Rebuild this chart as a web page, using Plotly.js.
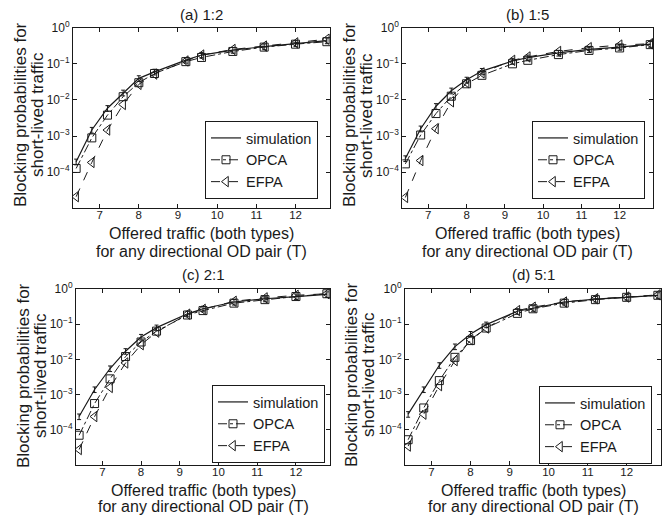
<!DOCTYPE html>
<html>
<head>
<meta charset="utf-8">
<script src="https://cdn.plot.ly/plotly-3.0.1.min.js"></script>
<style>html,body{margin:0;padding:0;background:#fff;}#chart{width:662px;height:515px;}</style>
</head>
<body>
<div id="chart"></div>
<script>
// Offered traffic (x values)
const T = [6.4, 6.8, 7.2, 7.6, 8.0, 8.4, 9.2, 9.6, 10.4, 11.2, 12.0, 12.8];

// (a) 1:2
const simA  = [1.95e-4, 1.47e-3, 5.9e-3, 1.58e-2, 3.96e-2, 6.0e-2, 0.127, 0.175, 0.24, 0.30, 0.37, 0.44];
const opcaA = [1.27e-4, 8.9e-4, 3.8e-3, 1.23e-2, 3.0e-2, 5.4e-2, 0.115, 0.15, 0.22, 0.29, 0.35, 0.41];
const efpaA = [2.1e-5, 1.86e-4, 1.47e-3, 7.5e-3, 2.7e-2, 5.2e-2, 0.12, 0.175, 0.25, 0.31, 0.38, 0.48];

// (b) 1:5
const simB  = [2.4e-4, 1.6e-3, 6.7e-3, 1.8e-2, 3.6e-2, 6.3e-2, 0.12, 0.148, 0.20, 0.25, 0.29, 0.35];
const opcaB = [1.7e-4, 1.07e-3, 4.2e-3, 1.27e-2, 2.8e-2, 4.8e-2, 0.10, 0.125, 0.18, 0.235, 0.275, 0.34];
const efpaB = [2.0e-5, 2.1e-4, 1.6e-3, 8.9e-3, 3.0e-2, 5.6e-2, 0.125, 0.155, 0.22, 0.28, 0.33, 0.36];

// (c) 2:1
const simC  = [2.4e-4, 1.4e-3, 5.5e-3, 1.7e-2, 4.3e-2, 7.9e-2, 0.195, 0.27, 0.42, 0.52, 0.60, 0.69];
const opcaC = [7.1e-5, 5.6e-4, 2.8e-3, 1.2e-2, 3.1e-2, 6.3e-2, 0.18, 0.24, 0.39, 0.49, 0.60, 0.72];
const efpaC = [2.8e-5, 2.4e-4, 1.6e-3, 7.9e-3, 2.6e-2, 5.9e-2, 0.19, 0.26, 0.44, 0.55, 0.65, 0.72];

// (d) 5:1
const simD  = [2.8e-4, 1.4e-3, 6.8e-3, 2.3e-2, 5.2e-2, 9.6e-2, 0.23, 0.28, 0.42, 0.51, 0.58, 0.65];
const opcaD = [5.3e-5, 4.2e-4, 2.5e-3, 1.14e-2, 3.4e-2, 7.7e-2, 0.20, 0.27, 0.39, 0.49, 0.57, 0.65];
const efpaD = [3.5e-5, 2.8e-4, 1.8e-3, 9.2e-3, 3.6e-2, 7.7e-2, 0.24, 0.30, 0.42, 0.52, 0.58, 0.67];

// Labels
const panelTitles = ['(a) 1:2', '(b) 1:5', '(c) 2:1', '(d) 5:1'];
const seriesNames = ['simulation', 'OPCA', 'EFPA'];
const xTickVals = [7, 8, 9, 10, 11, 12];
const yTickVals = [1e-4, 1e-3, 1e-2, 1e-1, 1];
const yTickText = ['10<sup>\u22124</sup>', '10<sup>\u22123</sup>', '10<sup>\u22122</sup>', '10<sup>\u22121</sup>', '10<sup>0</sup>'];
const xTitle1 = 'Offered traffic (both types)';
const xTitle2 = 'for any directional OD pair (T)';
const yTitle1 = 'Blocking probabilities for';
const yTitle2 = 'short-lived traffic';

const panels = [
  {sim: simA, opca: opcaA, efpa: efpaA},
  {sim: simB, opca: opcaB, efpa: efpaB},
  {sim: simC, opca: opcaC, efpa: efpaC},
  {sim: simD, opca: opcaD, efpa: efpaD}
];

const W = 662, H = 515;
const px = v => v / W;
const py = v => 1 - v / H;

// pixel boxes [left, right, top, bottom]
const boxes = [
  [73, 330, 27.7, 208.3],
  [402.3, 653.3, 27.7, 208.3],
  [76, 330, 288.7, 465.3],
  [405, 661, 288.7, 465.3]
];
// legend right/bottom in pixels
const legPos = [[318, 199], [645, 199], [325, 463], [652, 464]];
// y-title x positions and centre y
const yTitlePos = [[20, 37, 115], [349, 366, 115], [23, 40, 376], [351, 368, 375]];
const titleY = [15, 15, 274, 274];
const xTitleY = [[233, 251], [233, 251], [490, 506]];
xTitleY.push([490, 506]);

const FONT = 'Liberation Sans, Arial, sans-serif';
const INK = '#1a1a1a';

const data = [];
const layout = {
  width: W, height: H,
  margin: {l: 0, r: 0, t: 0, b: 0},
  paper_bgcolor: '#fff', plot_bgcolor: '#fff',
  font: {family: FONT, color: INK},
  annotations: []
};

panels.forEach((p, i) => {
  const n = i === 0 ? '' : String(i + 1);
  const xa = 'x' + n, ya = 'y' + n;
  const leg = 'legend' + n;
  data.push({
    x: T, y: p.sim, xaxis: xa, yaxis: ya, legend: leg, name: seriesNames[0],
    type: 'scatter', mode: 'lines',
    line: {color: INK, width: 1.2},
    error_y: {type: 'percent', value: 18, width: 2, thickness: 1, color: INK}
  });
  data.push({
    x: T, y: p.opca, xaxis: xa, yaxis: ya, legend: leg, name: seriesNames[1],
    type: 'scatter', mode: 'lines+markers',
    line: {color: INK, width: 1, dash: 'dashdot'},
    marker: {symbol: 'square-open', size: 8, color: INK, line: {width: 1, color: INK}}
  });
  data.push({
    x: T, y: p.efpa, xaxis: xa, yaxis: ya, legend: leg, name: seriesNames[2],
    type: 'scatter', mode: 'lines+markers',
    line: {color: INK, width: 1, dash: 'dash'},
    marker: {symbol: 'triangle-left-open', size: 9, color: INK, line: {width: 1, color: INK}}
  });

  const b = boxes[i];
  layout['xaxis' + n] = {
    domain: [px(b[0]), px(b[1])], anchor: ya,
    range: [6.32, 12.88],
    tickvals: xTickVals, ticks: 'inside', ticklen: 4, tickcolor: INK,
    showline: true, linecolor: INK, linewidth: 1, mirror: 'ticks',
    showgrid: false, zeroline: false, ticklabelstandoff: -4,
    tickfont: {size: 11.5, color: INK, family: FONT}
  };
  layout['yaxis' + n] = {
    domain: [py(b[3]), py(b[2])], anchor: xa,
    type: 'log', range: [-5, 0],
    tickvals: yTickVals, ticktext: yTickText, ticks: 'inside', ticklen: 4, tickcolor: INK,
    showline: true, linecolor: INK, linewidth: 1, mirror: 'ticks',
    showgrid: false, zeroline: false,
    tickfont: {size: 12, color: INK, family: FONT}
  };
  layout[leg] = {
    x: px(legPos[i][0]), y: py(legPos[i][1]), xanchor: 'right', yanchor: 'bottom',
    xref: 'paper', yref: 'paper',
    bgcolor: '#fff', bordercolor: INK, borderwidth: 1,
    font: {size: 14.5, color: INK, family: FONT},
    itemwidth: 30, tracegroupgap: 0
  };

  const cx = (b[0] + b[1]) / 2;
  const ann = (text, x, y, angle, size) => layout.annotations.push({
    text, x: px(x), y: py(y), xref: 'paper', yref: 'paper',
    xanchor: 'center', yanchor: 'middle', showarrow: false, textangle: angle || 0,
    font: {size: size, color: INK, family: FONT}
  });
  ann(panelTitles[i], cx, titleY[i], 0, 15);
  ann(xTitle1, cx, xTitleY[i][0], 0, 16);
  ann(xTitle2, cx, xTitleY[i][1], 0, 16);
  ann(yTitle1, yTitlePos[i][0], yTitlePos[i][2], -90, 17);
  ann(yTitle2, yTitlePos[i][1], yTitlePos[i][2], -90, 17);
});

Plotly.newPlot('chart', data, layout, {staticPlot: true, displayModeBar: false});
</script>
</body>
</html>
